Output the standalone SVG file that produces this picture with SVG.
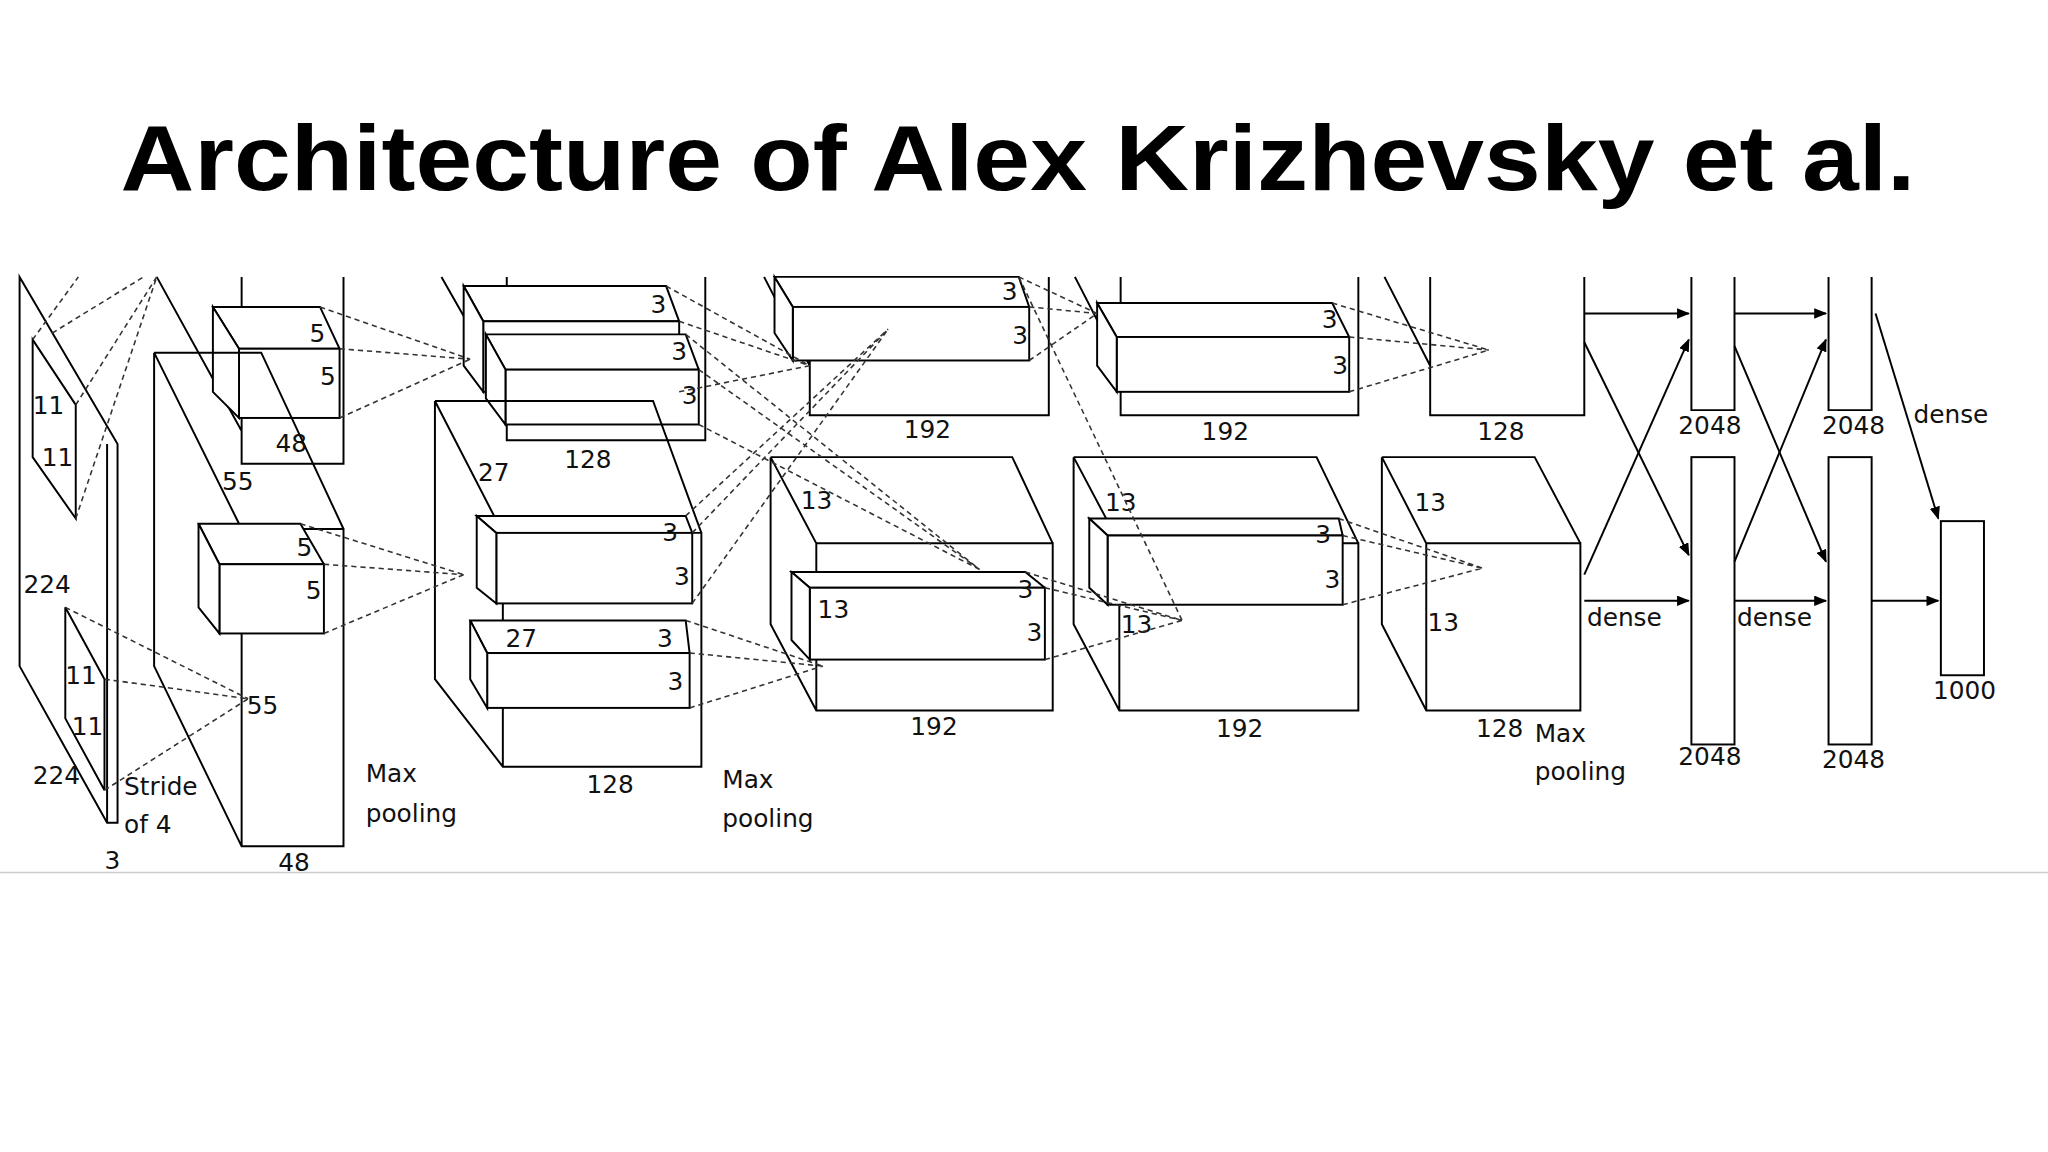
<svg xmlns="http://www.w3.org/2000/svg" width="2048" height="1152" viewBox="0 0 2048 1152">
<style>
.s{fill:none;stroke:#000;stroke-width:1.5}
.w{fill:#fff;stroke:#000;stroke-width:1.5}
.d{fill:none;stroke:#333;stroke-width:1.2;stroke-dasharray:4 3}
.a{fill:none;stroke:#000;stroke-width:1.5;marker-end:url(#ah)}
text.l{font-family:"DejaVu Sans",sans-serif;font-size:19px;fill:#111}
</style>
<defs><marker id="ah" markerWidth="10" markerHeight="8" refX="9" refY="4" orient="auto" markerUnits="userSpaceOnUse"><path d="M0,0 L10,4 L0,8 z" fill="#000"/></marker></defs>
<rect width="2048" height="1152" fill="#fff"/>
<text x="1018" y="190" text-anchor="middle" font-family="Liberation Sans, Arial, sans-serif" font-weight="bold" font-size="92" textLength="1795" lengthAdjust="spacingAndGlyphs">Architecture of Alex Krizhevsky et al.</text>
<g transform="scale(1.3061)">
<g id="input">
<path class="s" d="M15,212 L90,340 L90,630 L82,630 L15,510 Z M82,340 L82,630 M15,212 L15,510"/>
<path class="s" d="M25,260 L58,310 L58,397 L25,350 Z M50,465 L80,520 L80,605 L50,550 Z"/>
<text class="l" x="25" y="317">11</text><text class="l" x="32" y="357">11</text>
<text class="l" x="50" y="524">11</text><text class="l" x="55" y="563">11</text>
<text class="l" x="18" y="454">224</text><text class="l" x="25" y="600">224</text>
<text class="l" x="95" y="609">Stride</text><text class="l" x="95" y="638">of 4</text>
<text class="l" x="80" y="665">3</text>
</g>
<g id="conv1">
<path class="s" d="M120,212 L185,330 M185,212 L185,355 L263,355 L263,212"/>
<path class="w" d="M163,235 L245,235 L260,267 L183,267 Z"/><rect class="w" x="183" y="267" width="77" height="53"/><path class="w" d="M163,235 L183,267 L183,320 L163,300 Z"/>
<path class="s" d="M118,270 L200,270 L263,405 M118,270 L185,405 M118,270 L118,510 L185,648 L263,648 L263,405 L185,405 L185,648"/>
<path class="w" d="M152,401 L230,401 L248,432 L168,432 Z"/><rect class="w" x="168" y="432" width="80" height="53"/><path class="w" d="M152,401 L168,432 L168,485 L152,465 Z"/>
<text class="l" x="237" y="262">5</text><text class="l" x="245" y="295">5</text>
<text class="l" x="227" y="426">5</text><text class="l" x="234" y="459">5</text>
<text class="l" x="211" y="346">48</text><text class="l" x="170" y="375">55</text>
<text class="l" x="189" y="547">55</text><text class="l" x="213" y="667">48</text>
<text class="l" x="280" y="599">Max</text><text class="l" x="280" y="629">pooling</text>
</g>
<g id="conv2">
<path class="s" d="M338,212 L388,300 M388,212 L388,337 L540,337 L540,212"/>
<path class="w" d="M355,219 L510,219 L520,246 L370,246 Z"/><rect class="w" x="370" y="246" width="150" height="54"/><path class="w" d="M355,219 L370,246 L370,300 L355,280 Z"/>
<path class="w" d="M372,256 L525,256 L535,283 L387,283 Z"/><rect class="w" x="387" y="283" width="148" height="42"/><path class="w" d="M372,256 L387,283 L387,325 L372,305 Z"/>
<path class="s" d="M333,307 L500,307 L537,408 M333,307 L385,408 M333,307 L333,520 L385,587 L537,587 L537,408 L385,408 L385,587"/>
<path class="w" d="M365,395 L525,395 L530,408 L380,408 Z"/><rect class="w" x="380" y="408" width="150" height="54"/><path class="w" d="M365,395 L380,408 L380,462 L365,450 Z"/>
<path class="w" d="M360,475 L525,475 L528,500 L373,500 Z"/><rect class="w" x="373" y="500" width="155" height="42"/><path class="w" d="M360,475 L373,500 L373,542 L360,520 Z"/>
<text class="l" x="498" y="240">3</text><text class="l" x="514" y="276">3</text><text class="l" x="522" y="309">3</text>
<text class="l" x="507" y="414">3</text><text class="l" x="516" y="448">3</text>
<text class="l" x="387" y="495">27</text><text class="l" x="503" y="495">3</text><text class="l" x="511" y="528">3</text>
<text class="l" x="366" y="368">27</text><text class="l" x="432" y="358">128</text><text class="l" x="449" y="607">128</text>
<text class="l" x="553" y="603">Max</text><text class="l" x="553" y="633">pooling</text>
</g>
<g id="conv3">
<path class="s" d="M585,212 L620,280 M620,212 L620,318 L803,318 L803,212"/>
<path class="w" d="M593,212 L780,212 L788,235 L607,235 Z"/><rect class="w" x="607" y="235" width="181" height="41"/><path class="w" d="M593,212 L607,235 L607,276 L593,255 Z"/>
<path class="s" d="M590,350 L775,350 L806,416 M590,350 L625,416 M590,350 L590,478 L625,544 L806,544 L806,416 L625,416 L625,544"/>
<path class="w" d="M606,438 L785,438 L800,450 L620,450 Z"/><rect class="w" x="620" y="450" width="180" height="55"/><path class="w" d="M606,438 L620,450 L620,505 L606,490 Z"/>
<text class="l" x="767" y="230">3</text><text class="l" x="775" y="263">3</text>
<text class="l" x="613" y="390">13</text><text class="l" x="626" y="473">13</text>
<text class="l" x="779" y="458">3</text><text class="l" x="786" y="491">3</text>
<text class="l" x="692" y="335">192</text><text class="l" x="697" y="563">192</text>
</g>
<g id="conv4">
<path class="s" d="M823,212 L858,280 M858,212 L858,318 L1040,318 L1040,212"/>
<path class="w" d="M840,232 L1020,232 L1033,258 L855,258 Z"/><rect class="w" x="855" y="258" width="178" height="42"/><path class="w" d="M840,232 L855,258 L855,300 L840,280 Z"/>
<path class="s" d="M822,350 L1008,350 L1040,416 M822,350 L857,416 M822,350 L822,478 L857,544 L1040,544 L1040,416 L857,416 L857,544"/>
<path class="w" d="M834,397 L1025,397 L1028,410 L848,410 Z"/><rect class="w" x="848" y="410" width="180" height="53"/><path class="w" d="M834,397 L848,410 L848,463 L834,450 Z"/>
<text class="l" x="1012" y="251">3</text><text class="l" x="1020" y="286">3</text>
<text class="l" x="846" y="391">13</text><text class="l" x="858" y="485">13</text>
<text class="l" x="1007" y="416">3</text><text class="l" x="1014" y="450">3</text>
<text class="l" x="920" y="337">192</text><text class="l" x="931" y="564">192</text>
</g>
<g id="conv5">
<path class="s" d="M1060,212 L1095,280 M1095,212 L1095,318 L1213,318 L1213,212"/>
<path class="s" d="M1058,350 L1175,350 L1210,416 M1058,350 L1092,416 M1058,350 L1058,478 L1092,544 L1210,544 L1210,416 L1092,416 L1092,544"/>
<text class="l" x="1083" y="391">13</text><text class="l" x="1093" y="483">13</text>
<text class="l" x="1131" y="337">128</text><text class="l" x="1130" y="564">128</text>
<text class="l" x="1175" y="568">Max</text><text class="l" x="1175" y="597">pooling</text>
</g>
<g id="dense">
<path class="s" d="M1295,212 L1295,314 L1328,314 L1328,212 M1400,212 L1400,314 L1433,314 L1433,212"/>
<rect class="s" x="1295" y="350" width="33" height="220"/><rect class="s" x="1400" y="350" width="33" height="220"/>
<rect class="s" x="1486" y="399" width="33" height="118"/>
<text class="l" x="1285" y="332">2048</text><text class="l" x="1395" y="332">2048</text>
<text class="l" x="1285" y="586">2048</text><text class="l" x="1395" y="588">2048</text>
<text class="l" x="1480" y="535">1000</text>
<text class="l" x="1465" y="324">dense</text><text class="l" x="1215" y="479">dense</text><text class="l" x="1330" y="479">dense</text>
</g>
<g id="connectors">
<path class="a" d="M1213,240 L1293,240"/><path class="a" d="M1328,240 L1398,240"/>
<path class="a" d="M1213,262 L1293,425"/><path class="a" d="M1213,440 L1293,260"/>
<path class="a" d="M1213,460 L1293,460"/><path class="a" d="M1328,265 L1398,430"/>
<path class="a" d="M1328,430 L1398,260"/><path class="a" d="M1328,460 L1398,460"/>
<path class="a" d="M1433,460 L1484,460"/><path class="a" d="M1436,240 L1484,397"/>
<path class="d" d="M58,310 L120,212 M58,397 L120,212 M25,260 L60,212 M40,255 L110,212"/>
<path class="d" d="M80,520 L190,535 M80,605 L190,535 M50,465 L190,535"/>
<path class="d" d="M245,235 L360,275 M260,267 L360,275 M260,320 L360,275 M230,401 L355,440 M248,432 L355,440 M248,485 L355,440"/>
<path class="d" d="M510,219 L620,280 M520,246 L620,280 M520,300 L620,280 M525,256 L750,436 M535,283 L750,436 M535,325 L750,436"/>
<path class="d" d="M525,395 L680,252 M530,408 L680,252 M530,462 L680,252 M525,475 L630,510 M528,500 L630,510 M528,542 L630,510"/>
<path class="d" d="M780,212 L840,240 M788,235 L840,240 M788,276 L840,240 M785,438 L905,475 M800,450 L905,475 M800,505 L905,475 M780,212 L905,475"/>
<path class="d" d="M1020,232 L1140,268 M1033,258 L1140,268 M1033,300 L1140,268 M1025,397 L1135,435 M1028,410 L1135,435 M1028,463 L1135,435"/>
</g>
<path d="M0,668 L1568,668" stroke="#ccc" stroke-width="1"/>
</g>
</svg>
